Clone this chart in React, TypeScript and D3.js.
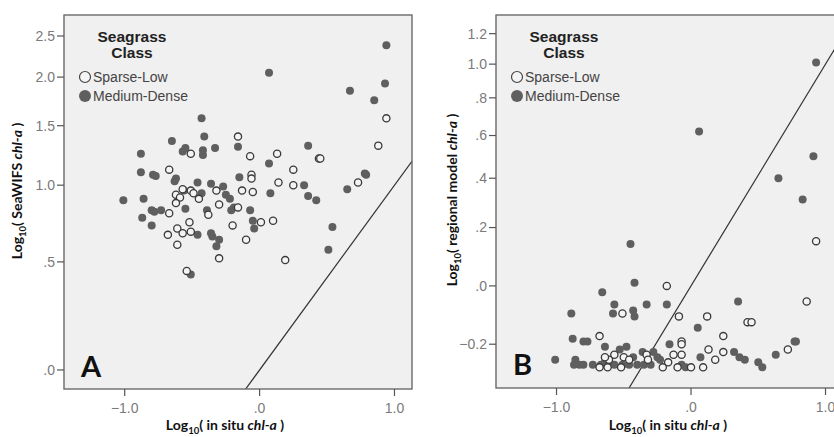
import React from "react";
import * as d3 from "d3";

// values (log10 units)
const xTicks = [-1, 0, 1];
const yTicksA = [0, 0.5, 1, 1.5, 2, 2.5];
const yTicksB = [-0.2, 0, 0.2, 0.4, 0.6, 0.8, 1.0, 1.2];
const legendLabels = ["Sparse-Low", "Medium-Dense"];

// panel A: in situ vs SeaWIFS
const seawifsDense: [number, number][] = [
  [0.94, 2.38], [0.07, 2.05], [0.67, 1.85], [0.93, 1.93], [0.85, 1.75], [-0.43, 1.57],
  [-0.41, 1.40], [-0.65, 1.36], [-0.57, 1.27], [-0.55, 1.30], [-0.42, 1.28], [-0.42, 1.24],
  [-0.33, 1.30], [-0.16, 1.31], [0.36, 1.32], [-0.88, 1.25], [0.07, 1.17], [-0.88, 1.10],
  [-0.79, 1.08], [-0.77, 1.07], [-0.63, 1.03], [-0.62, 1.05], [-0.46, 1.02], [-0.15, 1.06],
  [-0.36, 1.01], [-0.27, 0.99], [0.33, 1.00], [0.65, 0.97], [0.78, 1.09], [0.79, 1.08],
  [-1.01, 0.89], [-0.86, 0.90], [-0.43, 0.94], [-0.25, 0.93], [-0.22, 0.90], [-0.56, 0.96],
  [0.08, 0.94], [0.36, 0.92], [0.42, 0.89], [-0.80, 0.82], [-0.78, 0.81], [-0.73, 0.82],
  [-0.55, 0.83], [-0.39, 0.82], [-0.21, 0.82], [-0.19, 0.84], [-0.07, 0.82], [-0.87, 0.77],
  [-0.80, 0.72], [-0.46, 0.66], [-0.36, 0.67], [-0.35, 0.65], [-0.30, 0.63], [-0.32, 0.59],
  [-0.05, 0.75], [-0.04, 0.70], [0.54, 0.71], [0.51, 0.57], [-0.51, 0.43],
];
const seawifsSparse: [number, number][] = [
  [0.94, 1.57], [0.88, 1.32], [0.73, 1.02], [-0.16, 1.40], [-0.51, 1.25], [-0.07, 1.23],
  [0.13, 1.25], [0.44, 1.21], [0.45, 1.21], [0.25, 1.12], [-0.67, 1.12], [-0.06, 1.08],
  [-0.06, 1.05], [0.14, 1.02], [0.25, 1.00], [-0.57, 0.97], [-0.51, 0.96], [-0.49, 0.94],
  [-0.45, 0.90], [-0.62, 0.93], [-0.59, 0.91], [-0.62, 0.87], [-0.32, 0.96], [-0.13, 0.96],
  [-0.05, 0.95], [-0.30, 0.86], [-0.16, 0.84], [-0.67, 0.80], [-0.38, 0.79], [0.10, 0.75],
  [0.01, 0.74], [-0.20, 0.72], [-0.52, 0.74], [-0.61, 0.70], [-0.57, 0.67], [-0.51, 0.68],
  [-0.68, 0.66], [-0.61, 0.60], [-0.10, 0.63], [-0.30, 0.52], [0.19, 0.51], [-0.54, 0.45],
];

// panel B: in situ vs regional model
const regionalDense: [number, number][] = [
  [0.93, 1.01], [0.06, 0.62], [0.91, 0.50], [0.65, 0.40], [0.83, 0.31], [-0.45, 0.14],
  [-0.42, 0.01], [-0.66, -0.02], [-0.57, -0.06], [-0.43, -0.08], [-0.58, -0.09], [-0.42, -0.10],
  [-0.33, -0.06], [-0.89, -0.09], [-0.18, -0.06], [0.35, -0.05], [0.05, -0.14], [-0.88, -0.18],
  [-0.80, -0.19], [-0.77, -0.19], [-0.64, -0.21], [-0.53, -0.22], [-0.48, -0.21], [-0.36, -0.23],
  [-0.43, -0.25], [-1.01, -0.26], [-0.86, -0.26], [-0.16, -0.20], [0.07, -0.25], [0.32, -0.23],
  [0.36, -0.25], [0.40, -0.26], [0.50, -0.27], [0.53, -0.29], [-0.28, -0.23], [-0.25, -0.25],
  [-0.23, -0.26], [-0.07, -0.28], [-0.04, -0.29], [0.63, -0.24], [0.77, -0.19], [0.78, -0.19],
  [-0.87, -0.28], [-0.83, -0.28], [-0.80, -0.28], [-0.73, -0.28], [-0.67, -0.28], [-0.61, -0.28],
  [-0.57, -0.28], [-0.51, -0.28], [-0.46, -0.28], [-0.40, -0.28], [-0.35, -0.28], [-0.30, -0.28],
  [-0.64, -0.27],
];
const regionalSparse: [number, number][] = [
  [0.93, 0.15], [0.86, -0.05], [0.72, -0.22], [-0.18, 0.0], [-0.51, -0.09], [-0.09, -0.10],
  [0.12, -0.10], [0.42, -0.12], [0.45, -0.12], [-0.68, -0.17], [-0.07, -0.19], [-0.07, -0.20],
  [0.24, -0.17], [-0.13, -0.24], [-0.07, -0.24], [0.13, -0.22], [0.24, -0.23], [0.18, -0.26],
  [-0.17, -0.27], [-0.10, -0.29], [0.0, -0.29], [0.09, -0.29], [-0.21, -0.29], [-0.57, -0.24],
  [-0.50, -0.25], [-0.46, -0.26], [-0.61, -0.26], [-0.68, -0.29], [-0.62, -0.29], [-0.52, -0.29],
  [-0.33, -0.24], [-0.32, -0.26], [-0.64, -0.25],
];

const sans = "'Liberation Sans', Arial, sans-serif";
const title = "Lato, 'Open Sans', sans-serif";

const fmt = (v: number) => {
  const s = d3.format(".1f")(v);
  return s.replace(/^0\./, ".").replace(/^-0\./, "-.");
};

type PanelProps = {
  id: string;
  letter: string;
  left: number;
  right: number;
  top: number;
  bottom: number;
  yDomain: [number, number];
  yTicks: number[];
  yName: string;
  yTitleX: number;
  yTitleY: number;
  xTitleX: number;
  xTitleY: number;
  dense: [number, number][];
  sparse: [number, number][];
  letterY: number;
};

function Panel(p: PanelProps) {
  const x = d3.scaleLinear().domain([-1.45, 1.13]).range([p.left, p.right]);
  const y = d3.scaleSymlog().constant(1).domain(p.yDomain).range([p.bottom, p.top]);

  // 1:1 reference line through (0,0) and (1,1), extended and clipped
  const x0 = x(0), y0 = y(0), x1 = x(1), y1 = y(1);
  const k = 3;
  const line = d3.line()([
    [x0 - (x1 - x0) * k, y0 - (y1 - y0) * k],
    [x0 + (x1 - x0) * k, y0 + (y1 - y0) * k],
  ]);

  const lx = p.left + 21;
  const cx = p.left + 68;

  return (
    <g>
      <defs>
        <clipPath id={"clip" + p.id}>
          <rect x={p.left} y={p.top} width={p.right - p.left} height={p.bottom - p.top} />
        </clipPath>
      </defs>
      <rect x={p.left} y={p.top} width={p.right - p.left} height={p.bottom - p.top} fill="#f0f0f0" />
      <g clipPath={`url(#clip${p.id})`}>
        <path d={line || ""} stroke="#333" strokeWidth={1.2} fill="none" />
        {p.dense.map((d, i) => (
          <circle key={"d" + i} cx={x(d[0])} cy={y(d[1])} r={4} fill="#5f5f5f" />
        ))}
        {p.sparse.map((d, i) => (
          <circle key={"s" + i} cx={x(d[0])} cy={y(d[1])} r={3.6} fill="#f4f4f4" stroke="#3a3a3a" strokeWidth={1.3} />
        ))}
      </g>
      <rect x={p.left} y={p.top} width={p.right - p.left} height={p.bottom - p.top} fill="none" stroke="#6a6a6a" strokeWidth={1.4} />

      {p.yTicks.map((t) => (
        <g key={"yt" + t}>
          <line x1={p.left - 7} x2={p.left} y1={y(t)} y2={y(t)} stroke="#555" strokeWidth={1.2} />
          <text x={p.left - 9} y={y(t)} dy="0.35em" textAnchor="end" fontFamily={sans} fontSize={14} fill="#7a7a7a">
            {fmt(t)}
          </text>
        </g>
      ))}
      {xTicks.map((t) => (
        <g key={"xt" + t}>
          <line x1={x(t)} x2={x(t)} y1={p.bottom} y2={p.bottom + 7} stroke="#555" strokeWidth={1.2} />
          <text x={x(t)} y={p.bottom + 19} dy="0.35em" textAnchor="middle" fontFamily={sans} fontSize={14} fill="#7a7a7a">
            {fmt(t)}
          </text>
        </g>
      ))}

      {/* legend */}
      <text x={cx} y={p.top + 27} textAnchor="middle" fontFamily={sans} fontSize={15.5} fontWeight="bold" fill="#222">Seagrass</text>
      <text x={cx} y={p.top + 43} textAnchor="middle" fontFamily={sans} fontSize={15.5} fontWeight="bold" fill="#222">Class</text>
      <circle cx={lx} cy={p.top + 62} r={5.5} fill="#f4f4f4" stroke="#444" strokeWidth={1.2} />
      <text x={lx + 8} y={p.top + 62} dy="0.35em" fontFamily={sans} fontSize={14} fill="#444">{legendLabels[0]}</text>
      <circle cx={lx} cy={p.top + 81} r={6} fill="#5f5f5f" />
      <text x={lx + 8} y={p.top + 81} dy="0.35em" fontFamily={sans} fontSize={14} fill="#444">{legendLabels[1]}</text>

      <text x={p.left + 17} y={p.letterY} fontFamily={title} fontSize={29} fontWeight="bold" fill="#111">{p.letter}</text>

      {/* axis titles */}
      <text x={p.xTitleX} y={p.xTitleY} textAnchor="middle" fontFamily={title} fontSize={14} fontWeight="bold" fill="#111">
        Log<tspan fontSize={9.5} dy={4}>10</tspan>
        <tspan dy={-4}>( in situ </tspan>
        <tspan fontStyle="italic">chl-a</tspan>
        <tspan> )</tspan>
      </text>
      <text transform={`translate(${p.yTitleX},${p.yTitleY}) rotate(-90)`} textAnchor="middle" fontFamily={title} fontSize={14} fontWeight="bold" fill="#111">
        Log<tspan fontSize={9.5} dy={4}>10</tspan>
        <tspan dy={-4}>( {p.yName} </tspan>
        <tspan fontStyle="italic">chl-a</tspan>
        <tspan> )</tspan>
      </text>
    </g>
  );
}

export default function App() {
  return (
    <svg width={834} height={437} style={{ position: "absolute", left: 0, top: 0, background: "#fff" }}>
      <Panel
        id="a" letter="A" left={64} right={412} top={15} bottom={389}
        yDomain={[-0.074, 2.787]} yTicks={yTicksA} yName="SeaWIFS"
        yTitleX={22} yTitleY={191} xTitleX={225} xTitleY={430}
        dense={seawifsDense} sparse={seawifsSparse} letterY={377}
      />
      <Panel
        id="b" letter="B" left={496} right={843} top={15} bottom={388}
        yDomain={[-0.376, 1.332]} yTicks={yTicksB} yName="regional model"
        yTitleX={457} yTitleY={200} xTitleX={668} xTitleY={430}
        dense={regionalDense} sparse={regionalSparse} letterY={375}
      />
    </svg>
  );
}
